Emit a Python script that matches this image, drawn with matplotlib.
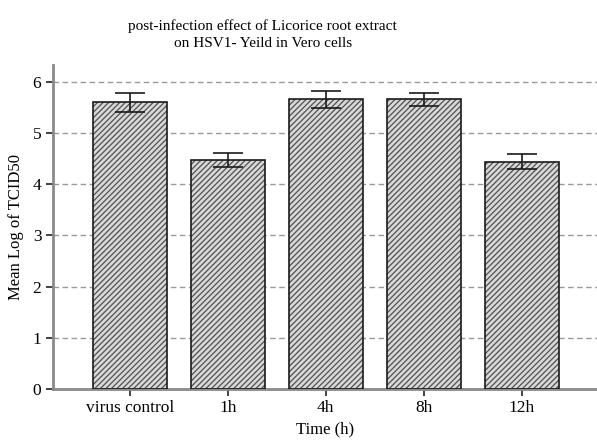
import matplotlib
matplotlib.use("Agg")
import matplotlib.pyplot as plt
import numpy as np

# values
categories = ["virus control", "1h", "4h", "8h", "12h"]
mean_log = [5.60, 4.47, 5.66, 5.66, 4.44]
err = [0.18, 0.14, 0.17, 0.13, 0.15]
y_ticks = [0, 1, 2, 3, 4, 5, 6]

plt.rcParams["font.family"] = ["Liberation Serif", "DejaVu Serif"]
plt.rcParams["hatch.linewidth"] = 0.9

fig = plt.figure(figsize=(5.97, 4.42), dpi=100)
ax = fig.add_axes([0.089, 0.12, 0.911, 0.733])

x = np.arange(len(categories))
ax.set_axisbelow(True)
ax.yaxis.grid(True, linestyle=(0, (4, 2.5)), color="#999999", linewidth=1.0)

# hatched fill, then a crisp black outline on top
ax.bar(x, mean_log, width=0.755, color="#d8d8d8", edgecolor="#505050",
       hatch="//////", linewidth=0, zorder=2)
ax.bar(x, mean_log, width=0.755, fill=False, edgecolor="#1a1a1a",
       linewidth=1.2, zorder=3)
ax.errorbar(x, mean_log, yerr=err, fmt="none", ecolor="#1a1a1a",
            elinewidth=1.2, capsize=11, capthick=1.2, zorder=4)

ax.set_xlim(-0.786, 4.77)
ax.set_ylim(0, 6.33)
ax.set_yticks(y_ticks)
ax.set_xticks(x)
ax.set_xticklabels(categories)

for side in ("top", "right"):
    ax.spines[side].set_visible(False)
for side in ("left", "bottom"):
    ax.spines[side].set_color("#8a8a8a")
    ax.spines[side].set_linewidth(2)
ax.tick_params(axis="both", colors="#333333", labelcolor="black",
               labelsize=12.5, length=5, width=1.3)
ax.tick_params(axis="x", pad=3)

ax.set_xlabel("Time (h)", fontsize=12, labelpad=4)
ax.set_ylabel("Mean Log of TCID50", fontsize=12, labelpad=6)

fig.text(0.44, 0.922, "post-infection effect of Licorice root extract\non HSV1- Yeild in Vero cells",
         ha="center", va="center", fontsize=11, linespacing=1.45)

fig.savefig("out.png", dpi=100)
